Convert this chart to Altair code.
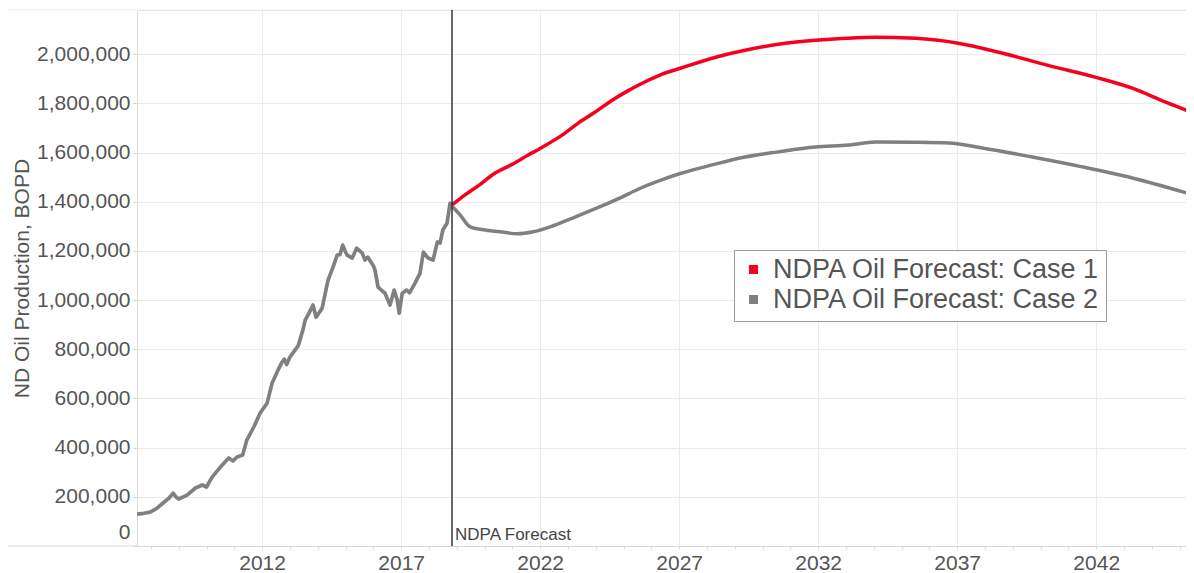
import altair as alt
import pandas as pd

# ---- data ----
hist_years = [2007.50, 2007.75, 2007.97, 2008.20, 2008.44, 2008.65, 2008.80, 2008.90, 2009.00,
              2009.30, 2009.60, 2009.85, 2010.00, 2010.20, 2010.50, 2010.80, 2010.95, 2011.10,
              2011.30, 2011.45, 2011.70, 2011.93, 2012.18, 2012.36, 2012.55, 2012.70, 2012.80,
              2012.88, 2013.00, 2013.30, 2013.47, 2013.55, 2013.70, 2013.83, 2013.94, 2014.16,
              2014.37, 2014.55, 2014.70, 2014.80, 2014.90, 2015.00, 2015.06, 2015.24, 2015.40,
              2015.60, 2015.70, 2015.80, 2016.00, 2016.06, 2016.17, 2016.30, 2016.42, 2016.60,
              2016.75, 2016.86, 2016.93, 2017.04, 2017.20, 2017.30, 2017.40, 2017.50, 2017.68,
              2017.80, 2017.97, 2018.15, 2018.30, 2018.40, 2018.50, 2018.65, 2018.76, 2018.83]
hist_values = [130, 133, 138, 152, 175, 195, 215, 200, 191,
               207, 236, 248, 240, 280, 321, 358, 346, 362,
               370, 431, 484, 541, 581, 663, 710, 745, 760,
               738, 768, 815, 880, 919, 950, 980, 931, 967,
               1081, 1134, 1183, 1185, 1224, 1195, 1183, 1171, 1211,
               1191, 1163, 1175, 1140, 1122, 1053, 1040, 1028, 980,
               1041, 1000, 947, 1028, 1041, 1030, 1049, 1069, 1110,
               1195, 1171, 1163, 1236, 1232, 1285, 1313, 1394, 1382]

case1_years = [2018.83, 2019.30, 2019.77, 2020.38, 2020.99, 2021.57, 2022.03, 2022.79, 2023.37,
               2023.98, 2024.59, 2025.17, 2025.78, 2026.39, 2027.04, 2028.19, 2029.37, 2030.56,
               2031.90, 2033.00, 2034.05, 2035.50, 2037.04, 2038.50, 2040.27, 2041.96, 2043.30,
               2044.50, 2045.50]
case1_values = [1387, 1428, 1465, 1517, 1552, 1590, 1619, 1671, 1720,
                1765, 1813, 1852, 1888, 1919, 1943, 1984, 2016, 2041,
                2057, 2065, 2069, 2065, 2045, 2008, 1955, 1907, 1862,
                1805, 1761]

case2_years = [2018.83, 2019.12, 2019.48, 2019.95, 2020.56, 2021.17, 2021.75, 2022.36, 2023.19,
               2024.05, 2024.88, 2025.60, 2026.39, 2027.04, 2028.19, 2029.37, 2030.56, 2031.90,
               2033.10, 2034.05, 2035.50, 2036.70, 2037.90, 2039.70, 2041.50, 2043.30, 2045.50]
case2_values = [1382, 1347, 1298, 1286, 1278, 1270, 1278, 1298, 1335,
                1375, 1416, 1455, 1490, 1515, 1550, 1582, 1603, 1623,
                1631, 1643, 1642, 1639, 1619, 1582, 1542, 1497, 1428]

series_names = ["NDPA Oil Forecast: Case 1", "NDPA Oil Forecast: Case 2"]
series_colors = ["#f5001e", "#808080"]
forecast_start = 2018.83
forecast_label = "NDPA Forecast"
x_tick_years = list(range(2008, 2046))
y_ticks = [0, 200000, 400000, 600000, 800000, 1000000, 1200000, 1400000, 1600000, 1800000, 2000000]

# ---- tables ----
hist_df = pd.DataFrame({"year": hist_years, "bopd": [v * 1000 for v in hist_values]})
fc_df = pd.concat([
    pd.DataFrame({"year": case1_years, "bopd": [v * 1000 for v in case1_values], "series": series_names[0]}),
    pd.DataFrame({"year": case2_years, "bopd": [v * 1000 for v in case2_values], "series": series_names[1]}),
])
marker_df = pd.DataFrame({"year": [forecast_start], "label": [forecast_label]})

W, H = 1049, 536
FONT = "Liberation Sans"
x_scale = alt.Scale(domain=[2007.5, 2045.23], nice=False, zero=False)
y_scale = alt.Scale(domain=[0, 2180000], nice=False)

major_test = "(datum.value - 2012) % 5 == 0"
x_axis = alt.Axis(
    values=x_tick_years, tickCount=200,
    labelExpr="(datum.value - 2012) % 5 == 0 ? datum.value : ''",
    gridOpacity={"condition": {"test": major_test, "value": 1}, "value": 0},
    title=None, grid=True, gridColor="#ebebeb", domainColor="#d6d6d6", tickColor="#dedede",
    tickSize=3, labelPadding=3, labelFontSize=21, labelColor="#555555", labelFont=FONT,
    labelFlush=False, labelOverlap=False, format="d",
)
y_axis = alt.Axis(
    values=y_ticks, tickCount=200, format=",d", title="ND Oil Production, BOPD",
    grid=True, gridColor="#ebebeb", domainColor="#dcdcdc", tickColor="#d0d0d0", tickSize=4,
    labelPadding=3, labelFontSize=21, labelColor="#555555", labelFont=FONT,
    labelFlush=True, labelFlushOffset=-4,
    titleFontSize=21, titleColor="#555555", titleFont=FONT, titleFontWeight="normal",
    titleX=-115, titleY=H / 2, titleAngle=-90, titleAlign="center", titleBaseline="middle",
)

hist = alt.Chart(hist_df).mark_line(
    color=series_colors[1], strokeWidth=3.7, strokeJoin="round", strokeCap="round", clip=True
).encode(
    x=alt.X("year:Q", scale=x_scale, axis=x_axis),
    y=alt.Y("bopd:Q", scale=y_scale, axis=y_axis),
)

fc = alt.Chart(fc_df).mark_line(
    strokeWidth=3.5, interpolate="monotone", strokeJoin="round", clip=True
).encode(
    x=alt.X("year:Q", scale=x_scale),
    y=alt.Y("bopd:Q", scale=y_scale),
    color=alt.Color("series:N", scale=alt.Scale(domain=series_names, range=series_colors),
                    legend=alt.Legend(
                        title=None, orient="none", legendX=597, legendY=240,
                        symbolType="square", symbolSize=4, symbolStrokeWidth=7,
                        labelFontSize=27, labelColor="#555555", labelFont=FONT, labelLimit=500,
                        labelOffset=6, rowPadding=-1, padding=6,
                        strokeColor="#9a9a9a", fillColor="white",
                    )),
)

vline = alt.Chart(marker_df).mark_rule(color="#333333", strokeWidth=1.5).encode(
    x=alt.X("year:Q", scale=x_scale),
)
vtext = alt.Chart(marker_df).mark_text(
    align="left", baseline="alphabetic", dx=3, fontSize=17, color="#444444", font=FONT
).encode(
    x=alt.X("year:Q", scale=x_scale), y=alt.value(H - 6), text="label:N",
)

top_line = alt.Chart(marker_df).mark_rule(color="#eeeeee", strokeWidth=1).encode(
    x=alt.value(-129), x2=alt.value(W), y=alt.value(0)
)
bottom_ext = alt.Chart(marker_df).mark_rule(color="#d6d6d6", strokeWidth=1).encode(
    x=alt.value(-129), x2=alt.value(0), y=alt.value(H)
)

chart = alt.layer(top_line, bottom_ext, hist, fc, vline, vtext).properties(
    width=W, height=H,
    autosize=alt.AutoSizeParams(type="none"),
    padding={"left": 129, "top": 2, "right": 0, "bottom": 27},
).configure_view(stroke=None).configure(font=FONT)

chart.save("out.html", embed_options={"renderer": "svg", "actions": False})
